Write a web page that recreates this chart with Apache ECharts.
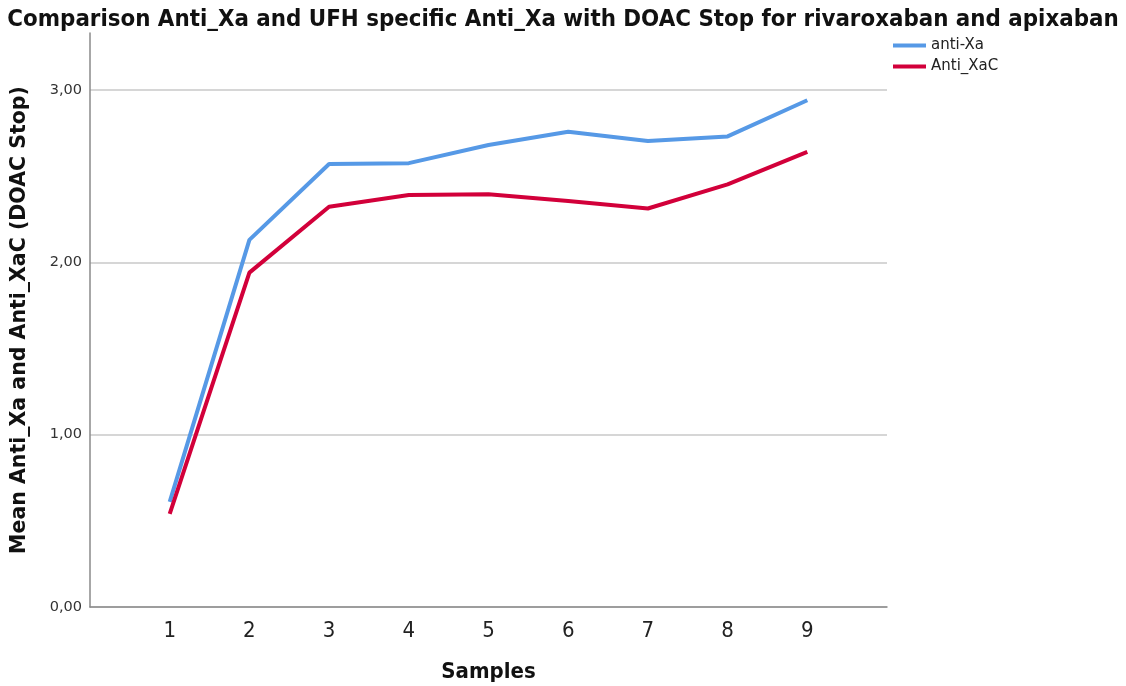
<!DOCTYPE html>
<html>
<head>
<meta charset="utf-8">
<script src="https://cdn.jsdelivr.net/npm/echarts@6/dist/echarts.min.js"></script>
<style>html,body{margin:0;padding:0;background:#fff}#c{width:1126px;height:686px}</style>
</head>
<body>
<div id="c"></div>
<script>
const samples = [1, 2, 3, 4, 5, 6, 7, 8, 9];
const antiXa = [0.61, 2.13, 2.57, 2.575, 2.68, 2.757, 2.703, 2.73, 2.94];
const antiXaC = [0.54, 1.94, 2.322, 2.39, 2.395, 2.355, 2.312, 2.452, 2.64];
const yTicks = [0, 1, 2, 3];
const seriesNames = ['anti-Xa', 'Anti_XaC'];

const chart = echarts.init(document.getElementById('c'), null, {renderer: 'canvas'});
const condensed = '"Liberation Sans Narrow", "DejaVu Sans Condensed", "Roboto Condensed", sans-serif';
chart.setOption({
  animation: false,
  backgroundColor: '#ffffff',
  title: {
    text: 'Comparison Anti_Xa and UFH specific Anti_Xa with DOAC Stop for rivaroxaban and apixaban',
    left: 'center', top: 3,
    textStyle: {fontFamily: condensed, fontWeight: 'bold', fontSize: 23.8, color: '#111'}
  },
  legend: {
    orient: 'vertical', left: 888, top: 33, itemGap: 6,
    icon: 'rect', itemWidth: 33, itemHeight: 4,
    textStyle: {fontFamily: '"DejaVu Sans", sans-serif', fontSize: 15, color: '#222'},
    data: seriesNames
  },
  grid: {left: 90, right: 239, top: 33, bottom: 79, containLabel: false, outerBoundsMode: 'none'},
  xAxis: {
    type: 'value', min: 0, max: 10, interval: 1,
    name: 'Samples', nameLocation: 'middle', nameGap: 54,
    nameTextStyle: {fontFamily: condensed, fontWeight: 'bold', fontSize: 22, color: '#111'},
    axisLine: {lineStyle: {color: '#8a8a8a', width: 1.5}},
    axisTick: {show: false},
    splitLine: {show: false},
    axisLabel: {
      margin: 13, fontFamily: condensed, fontSize: 22, color: '#222',
      formatter: v => samples.indexOf(v) >= 0 ? String(v) : ''
    }
  },
  yAxis: {
    type: 'value', min: 0, max: 3.33, interval: 1,
    name: 'Mean Anti_Xa and Anti_XaC (DOAC Stop)', nameLocation: 'middle', nameRotate: 90, nameGap: 60,
    nameTextStyle: {fontFamily: '"DejaVu Sans", sans-serif', fontWeight: 'bold', fontSize: 20.5, color: '#111'},
    axisLine: {show: true, lineStyle: {color: '#8a8a8a', width: 1.5}},
    axisTick: {show: false},
    splitLine: {show: true, lineStyle: {color: ['#c8c8c8', '#c8c8c8', '#c8c8c8', '#c8c8c8', 'rgba(0,0,0,0)'], width: 1.5}},
    axisLabel: {
      margin: 8, fontFamily: '"DejaVu Sans", sans-serif', fontSize: 14.5, color: '#333',
      formatter: v => yTicks.indexOf(v) >= 0 ? v.toFixed(2).replace('.', ',') : ''
    }
  },
  series: [
    {
      name: seriesNames[0], type: 'line', symbol: 'none',
      lineStyle: {width: 4, color: '#5699e6'}, itemStyle: {color: '#5699e6'},
      data: samples.map((s, i) => [s, antiXa[i]])
    },
    {
      name: seriesNames[1], type: 'line', symbol: 'none',
      lineStyle: {width: 4, color: '#d2003a'}, itemStyle: {color: '#d2003a'},
      data: samples.map((s, i) => [s, antiXaC[i]])
    }
  ]
});
</script>
</body>
</html>
